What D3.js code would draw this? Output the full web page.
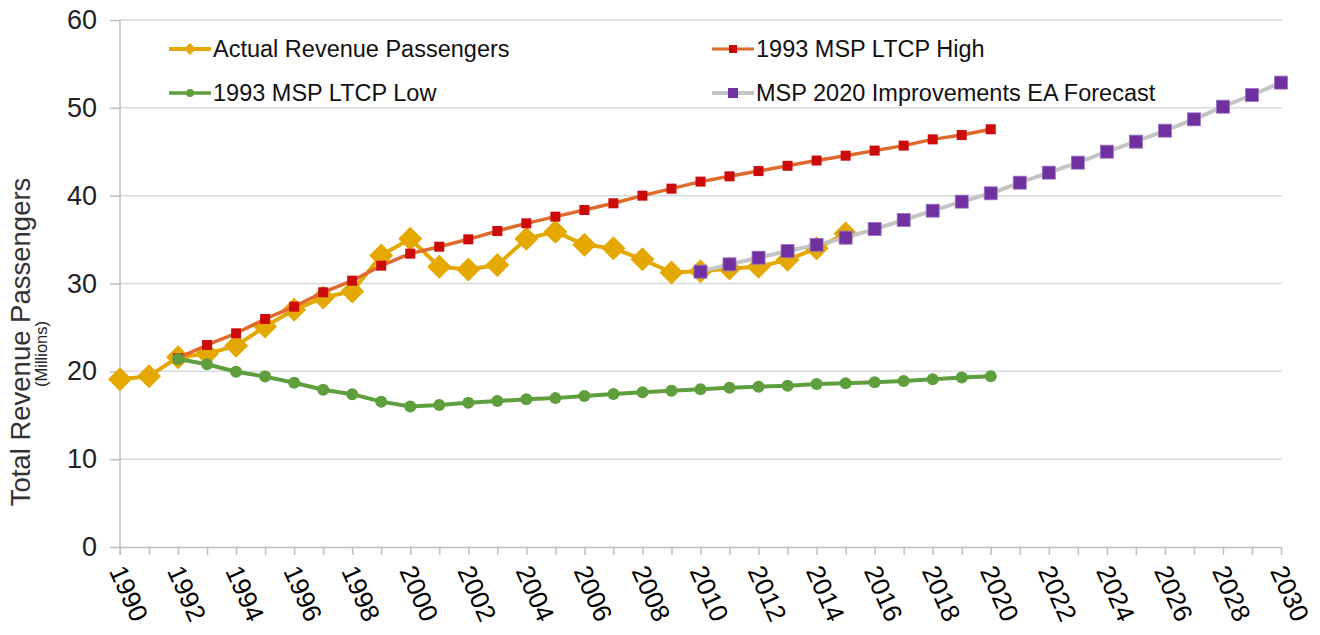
<!DOCTYPE html>
<html>
<head>
<meta charset="utf-8">
<script src="https://cdn.jsdelivr.net/npm/d3@7"></script>
<style>
  html, body { margin: 0; padding: 0; background: #fff; }
  svg { display: block; font-family: "Liberation Sans", Arial, sans-serif; }
</style>
</head>
<body>
<svg id="chart" width="1320" height="635"></svg>
<script>
// ---- Data ----
const actualYears = d3.range(1990, 2016);
const actualValues = [19.1, 19.45, 21.6, 22.0, 22.9, 25.1, 27.0, 28.4, 29.1, 33.2, 35.1, 31.9, 31.6, 32.1, 35.1, 35.9, 34.4, 34.0, 32.75, 31.25, 31.4, 31.7, 31.9, 32.7, 34.0, 35.7];

const highYears = d3.range(1992, 2021);
const highValues = [21.5, 23.0, 24.33, 25.96, 27.36, 29.0, 30.32, 32.03, 33.4, 34.19, 35.03, 35.98, 36.85, 37.61, 38.37, 39.13, 40.0, 40.8, 41.6, 42.2, 42.8, 43.4, 44.0, 44.55, 45.13, 45.7, 46.41, 46.9, 47.56];

const lowYears = d3.range(1992, 2021);
const lowValues = [21.4, 20.8, 19.95, 19.4, 18.7, 17.9, 17.4, 16.55, 16.0, 16.17, 16.43, 16.62, 16.81, 16.95, 17.19, 17.42, 17.61, 17.8, 17.97, 18.14, 18.25, 18.37, 18.56, 18.63, 18.75, 18.9, 19.1, 19.3, 19.45];

const forecastYears = d3.range(2010, 2031);
const forecastValues = [31.35, 32.18, 32.94, 33.7, 34.4, 35.22, 36.2, 37.23, 38.29, 39.32, 40.27, 41.48, 42.62, 43.76, 45.01, 46.15, 47.4, 48.69, 50.13, 51.46, 52.87];

const yTicks = [0, 10, 20, 30, 40, 50, 60];
const xTickYears = d3.range(1990, 2031);
const xLabelYears = d3.range(1990, 2031, 2);

const seriesNames = ["Actual Revenue Passengers", "1993 MSP LTCP High", "1993 MSP LTCP Low", "MSP 2020 Improvements EA Forecast"];

// ---- Layout ----
const svg = d3.select("#chart");
const x = d3.scaleLinear().domain([1990, 2030]).range([120, 1281]);
const y = d3.scaleLinear().domain([0, 60]).range([547, 20]);

// gridlines
svg.append("g").selectAll("line").data(yTicks.filter(d => d > 0)).join("line")
  .attr("x1", x(1990)).attr("x2", x(2030) + 1)
  .attr("y1", d => y(d)).attr("y2", d => y(d))
  .attr("stroke", "#d9d9d9").attr("stroke-width", 1.5);

// y axis
const yAxis = svg.append("g").attr("transform", `translate(${x(1990)},0)`)
  .call(d3.axisLeft(y).tickValues(yTicks).tickSize(10).tickPadding(13).tickSizeOuter(0));
yAxis.select(".domain").remove();
yAxis.selectAll(".tick line").attr("stroke", "#bfbfbf").attr("stroke-width", 1.5);
yAxis.selectAll(".tick text").attr("font-size", 27).attr("fill", "#222")
  .attr("font-family", "Liberation Sans, Arial, sans-serif");
yAxis.append("line").attr("x1", 0).attr("x2", 0).attr("y1", y(60)).attr("y2", y(0) + 8)
  .attr("stroke", "#bfbfbf").attr("stroke-width", 1.5);

// x axis
const xAxis = svg.append("g").attr("transform", `translate(0,${y(0)})`)
  .call(d3.axisBottom(x).tickValues(xTickYears).tickSize(8).tickFormat("").tickSizeOuter(0));
xAxis.select(".domain").attr("stroke", "#bfbfbf").attr("stroke-width", 1.5);
xAxis.selectAll(".tick line").attr("stroke", "#bfbfbf").attr("stroke-width", 1.5);

svg.append("g").selectAll("text").data(xLabelYears).join("text")
  .attr("transform", d => `translate(${x(d) - 3},${567}) rotate(66)`)
  .attr("text-anchor", "start").attr("dominant-baseline", "central")
  .attr("font-size", 26).attr("fill", "#000")
  .text(d => d);

// y axis title
svg.append("text").attr("transform", "translate(30,342) rotate(-90)")
  .attr("text-anchor", "middle").attr("font-size", 27.5).attr("fill", "#333")
  .text("Total Revenue Passengers");
svg.append("text").attr("transform", "translate(46.5,354) rotate(-90)")
  .attr("text-anchor", "middle").attr("font-size", 16.5).attr("fill", "#222")
  .text("(Millions)");

// ---- Series ----
const line = d3.line().x(d => x(d[0])).y(d => y(d[1]));
const zip = (a, b) => a.map((v, i) => [v, b[i]]);

const actual = zip(actualYears, actualValues);
const high = zip(highYears, highValues);
const low = zip(lowYears, lowValues);
const fc = zip(forecastYears, forecastValues);

const cGold = "#e5a800", cOrange = "#e0692c", cRed = "#cc0a0a", cGreen = "#5f9e3d", cGray = "#c4c4c4", cPurple = "#7030a0";

// Actual
svg.append("path").datum(actual).attr("d", line).attr("fill", "none")
  .attr("stroke", cGold).attr("stroke-width", 4).attr("stroke-linejoin", "round");
svg.append("g").selectAll("path").data(actual).join("path")
  .attr("transform", d => `translate(${x(d[0])},${y(d[1])})`)
  .attr("d", "M0,-12L12,0L0,12L-12,0Z").attr("fill", cGold);

// High
svg.append("path").datum(high).attr("d", line).attr("fill", "none")
  .attr("stroke", cOrange).attr("stroke-width", 3.5).attr("stroke-linejoin", "round");
svg.append("g").selectAll("rect").data(high).join("rect")
  .attr("x", d => x(d[0]) - 5).attr("y", d => y(d[1]) - 5)
  .attr("width", 10).attr("height", 10).attr("fill", cRed);

// Low
svg.append("path").datum(low).attr("d", line).attr("fill", "none")
  .attr("stroke", cGreen).attr("stroke-width", 4).attr("stroke-linejoin", "round");
svg.append("g").selectAll("circle").data(low).join("circle")
  .attr("cx", d => x(d[0])).attr("cy", d => y(d[1])).attr("r", 6).attr("fill", cGreen);

// Forecast
svg.append("path").datum(fc).attr("d", line).attr("fill", "none")
  .attr("stroke", cGray).attr("stroke-width", 4).attr("stroke-linejoin", "round");
svg.append("g").selectAll("rect").data(fc).join("rect")
  .attr("x", d => x(d[0]) - 6.5).attr("y", d => y(d[1]) - 6.5)
  .attr("width", 13).attr("height", 13).attr("fill", cPurple)
  .attr("stroke", "#9a74c0").attr("stroke-width", 0.8);

// ---- Legend ----
const legend = [
  { name: seriesNames[0], lx: 169, ly: 49, stroke: cGold, sw: 4, marker: "diamond", mc: cGold },
  { name: seriesNames[1], lx: 712, ly: 49, stroke: cOrange, sw: 3, marker: "square", mc: cRed, ms: 8 },
  { name: seriesNames[2], lx: 169, ly: 93, stroke: cGreen, sw: 3.5, marker: "circle", mc: cGreen },
  { name: seriesNames[3], lx: 712, ly: 93, stroke: cGray, sw: 4, marker: "square", mc: cPurple, ms: 10 }
];
const lg = svg.append("g");
legend.forEach(d => {
  const g = lg.append("g").attr("transform", `translate(${d.lx},${d.ly})`);
  g.append("line").attr("x1", 0).attr("x2", 42).attr("y1", 0).attr("y2", 0)
    .attr("stroke", d.stroke).attr("stroke-width", d.sw);
  if (d.marker === "diamond") {
    g.append("path").attr("d", "M21,-6L27,0L21,6L15,0Z").attr("fill", d.mc);
  } else if (d.marker === "circle") {
    g.append("circle").attr("cx", 21).attr("cy", 0).attr("r", 4).attr("fill", d.mc);
  } else {
    g.append("rect").attr("x", 21 - d.ms / 2).attr("y", -d.ms / 2)
      .attr("width", d.ms).attr("height", d.ms).attr("fill", d.mc);
  }
  g.append("text").attr("x", 44).attr("y", 0).attr("dominant-baseline", "central")
    .attr("font-size", 23.5).attr("fill", "#111").text(d.name);
});
</script>
</body>
</html>
